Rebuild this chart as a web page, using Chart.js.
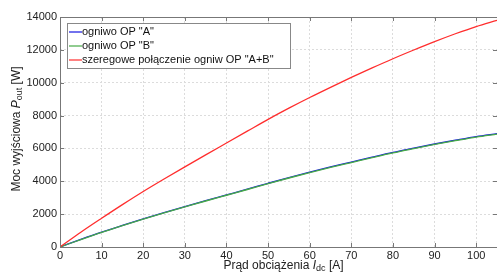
<!DOCTYPE html>
<html>
<head>
<meta charset="utf-8">
<script src="https://cdn.jsdelivr.net/npm/chart.js@4"></script>
<style>
  html, body { margin: 0; padding: 0; background: #fff; }
</style>
</head>
<body>
<canvas id="myChart" width="497" height="273"></canvas>
<script>
// load current [A]
const current = [0, 5, 10, 15, 20, 25, 30, 35, 40, 45, 50, 55, 60, 65, 70, 75, 80, 85, 90, 95, 100, 105];
// output power [W]
const powerA = [0, 460, 900, 1310, 1710, 2090, 2460, 2820, 3170, 3520, 3880, 4230, 4560, 4870, 5170, 5470, 5760, 6020, 6270, 6500, 6720, 6900];
const powerB = [0, 455, 895, 1305, 1700, 2080, 2440, 2800, 3150, 3500, 3855, 4200, 4530, 4840, 5140, 5440, 5730, 5990, 6240, 6470, 6690, 6870];
const powerAB = [0, 900, 1750, 2580, 3380, 4140, 4880, 5610, 6330, 7050, 7770, 8450, 9100, 9720, 10320, 10900, 11460, 11990, 12500, 12980, 13420, 13800];

const labels = ['ogniwo OP "A"', 'ogniwo OP "B"', 'szeregowe połączenie ogniw OP "A+B"'];
const colors = ['rgb(20,20,225)', 'rgb(70,170,70)', 'rgb(255,45,45)'];

const xTicks = [0, 10, 20, 30, 40, 50, 60, 70, 80, 90, 100];
const yTicks = [0, 2000, 4000, 6000, 8000, 10000, 12000, 14000];

const FONT = '"Liberation Sans", Arial, sans-serif';

function toPoints(xs, ys) {
  return xs.map((x, i) => ({ x: x, y: ys[i] }));
}

// frame, inward ticks, axis titles and boxed legend (matlab style)
const decorPlugin = {
  id: 'decor',
  afterDraw(chart) {
    const ctx = chart.ctx;
    const a = chart.chartArea;
    const xs = chart.scales.x, ys = chart.scales.y;
    ctx.save();
    ctx.strokeStyle = '#777';
    ctx.lineWidth = 1;
    ctx.strokeRect(a.left + 0.5, a.top + 0.5, a.right - a.left, a.bottom - a.top);

    ctx.beginPath();
    for (const t of xTicks) {
      const px = Math.round(xs.getPixelForValue(t)) + 0.5;
      ctx.moveTo(px, a.bottom); ctx.lineTo(px, a.bottom - 4);
      ctx.moveTo(px, a.top); ctx.lineTo(px, a.top + 4);
    }
    for (const t of yTicks) {
      const py = Math.round(ys.getPixelForValue(t)) + 0.5;
      ctx.moveTo(a.left, py); ctx.lineTo(a.left + 4, py);
      ctx.moveTo(a.right, py); ctx.lineTo(a.right - 4, py);
    }
    ctx.stroke();

    // axis titles with italic symbol + subscript
    function drawTitle(parts, cx, cy) {
      let w = 0;
      for (const p of parts) {
        ctx.font = p.font;
        p.w = ctx.measureText(p.t).width;
        w += p.w;
      }
      let x = cx - w / 2;
      ctx.fillStyle = '#222';
      ctx.textBaseline = 'middle';
      ctx.textAlign = 'left';
      for (const p of parts) {
        ctx.font = p.font;
        ctx.fillText(p.t, x, cy + (p.dy || 0));
        x += p.w;
      }
    }
    const norm = '12px ' + FONT, ital = 'italic 12px ' + FONT, sub = '9px ' + FONT;

    drawTitle([
      { t: 'Prąd obciążenia ', font: norm },
      { t: 'I', font: ital },
      { t: 'dc', font: sub, dy: 3 },
      { t: ' [A]', font: norm }
    ], (a.left + a.right) / 2 + 5, 266);

    ctx.save();
    ctx.translate(17, (a.top + a.bottom) / 2 - 3);
    ctx.rotate(-Math.PI / 2);
    drawTitle([
      { t: 'Moc wyjściowa ', font: norm },
      { t: 'P', font: ital },
      { t: 'out', font: sub, dy: 3 },
      { t: ' [W]', font: norm }
    ], 0, 0);
    ctx.restore();

    // legend box
    const lx = 67.5, ly = 23.5, lw = 223, lh = 45;
    ctx.fillStyle = '#fff';
    ctx.fillRect(lx, ly, lw, lh);
    ctx.strokeStyle = '#888';
    ctx.strokeRect(lx, ly, lw, lh);
    ctx.font = '11px ' + FONT;
    ctx.textBaseline = 'middle';
    ctx.textAlign = 'left';
    chart.data.datasets.forEach((ds, i) => {
      const yy = 32 + i * 14;
      ctx.strokeStyle = ds.borderColor;
      ctx.lineWidth = 1.2;
      ctx.beginPath();
      ctx.moveTo(69, yy); ctx.lineTo(82, yy);
      ctx.stroke();
      ctx.fillStyle = '#111';
      ctx.fillText(ds.label, 82, yy);
    });
    ctx.restore();
  }
};

const ctx = document.getElementById('myChart').getContext('2d');
const myChart = new Chart(ctx, {
  type: 'line',
  data: {
    datasets: [
      { label: labels[0], data: toPoints(current, powerA), borderColor: colors[0], order: 3 },
      { label: labels[1], data: toPoints(current, powerB), borderColor: colors[1], order: 2 },
      { label: labels[2], data: toPoints(current, powerAB), borderColor: colors[2], order: 1 }
    ]
  },
  options: {
    responsive: false,
    animation: false,
    devicePixelRatio: 1,
    layout: { padding: { top: 17, right: 0, left: 0, bottom: 0 } },
    elements: {
      point: { radius: 0 },
      line: { borderWidth: 1.3, tension: 0.4, cubicInterpolationMode: 'monotone' }
    },
    plugins: {
      legend: { display: false },
      tooltip: { enabled: false }
    },
    scales: {
      x: {
        type: 'linear',
        min: 0,
        max: 105,
        afterFit: s => { s.height = 26; },
        afterBuildTicks: s => { s.ticks = xTicks.map(v => ({ value: v })); },
        ticks: { padding: 2, maxRotation: 0, color: '#222', font: { family: FONT, size: 11 }, callback: v => String(v) },
        grid: { color: '#dcdcdc', drawTicks: false },
        border: { display: false, dash: [2, 2] }
      },
      y: {
        type: 'linear',
        min: 0,
        max: 14000,
        afterFit: s => { s.width = 60; },
        afterBuildTicks: s => { s.ticks = yTicks.map(v => ({ value: v })); },
        ticks: { padding: 3, color: '#222', font: { family: FONT, size: 11 }, callback: v => String(v) },
        grid: { color: '#dcdcdc', drawTicks: false },
        border: { display: false, dash: [2, 2] }
      }
    }
  },
  plugins: [decorPlugin]
});
</script>
</body>
</html>
